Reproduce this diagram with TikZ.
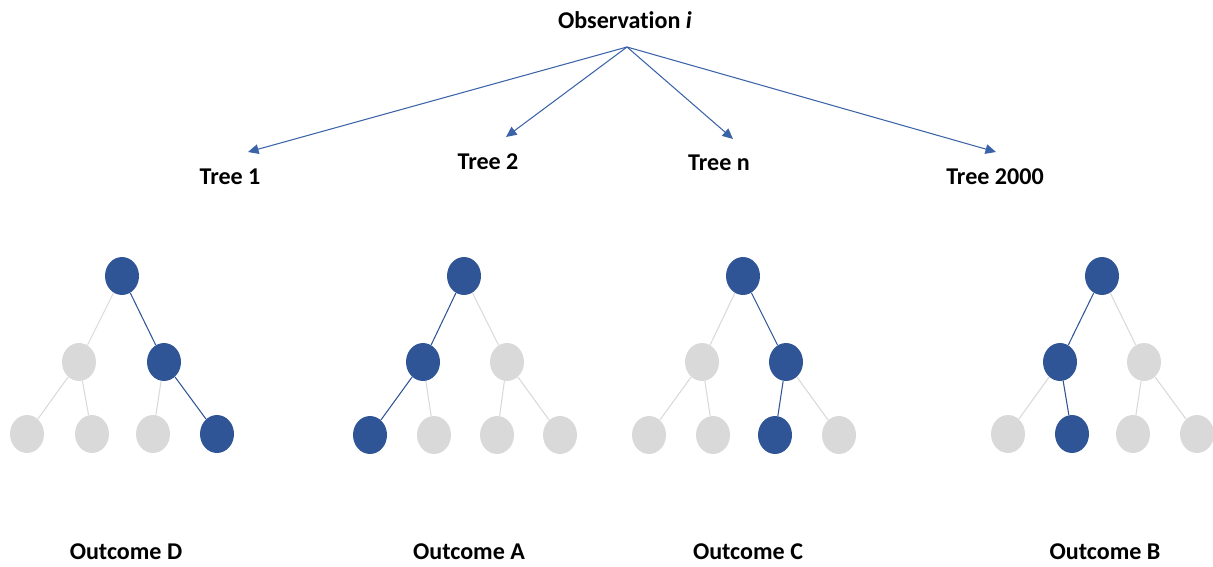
\documentclass[tikz,border=0pt]{standalone}
\usepackage{fontspec}
\setmainfont[Ligatures=NoCommon]{Carlito}
\usetikzlibrary{shapes.geometric, arrows.meta}
\definecolor{nodeblue}{HTML}{2F5597}
\definecolor{nodegray}{HTML}{D9D9D9}
\definecolor{arrowblue}{HTML}{3B63A8}
\tikzstyle{title} = [font=\fontsize{13.7}{16}\selectfont\bfseries, inner sep=0pt]
\tikzstyle{hit} = [ellipse, minimum width=0.68cm, minimum height=0.76cm, inner sep=0pt, fill=nodeblue]
\tikzstyle{miss} = [ellipse, minimum width=0.68cm, minimum height=0.76cm, inner sep=0pt, fill=nodegray]
\tikzstyle{hitedge} = [draw=nodeblue, line width=0.6pt]
\tikzstyle{missedge} = [draw=nodegray, line width=0.6pt]
\tikzstyle{arrow} = [draw=arrowblue, line width=0.6pt, -{Triangle[length=6pt,width=5.5pt]}]

\begin{document}
\begin{tikzpicture}[x=0.02cm, y=-0.02cm]
\useasboundingbox (0,0) rectangle (1213,567);

\node (obs) [title] at (625,20) {Observation \textit{i}};
\coordinate (obspt) at (627,47);

\node (tree1) [title] at (230,177) {Tree 1};
\node (tree2) [title] at (488,162) {Tree 2};
\node (treen) [title] at (719,163) {Tree n};
\node (tree2000) [title] at (995,177) {Tree 2000};

\coordinate (tip1) at (248,152);
\coordinate (tip2) at (506,137);
\coordinate (tipn) at (733,139);
\coordinate (tip2000) at (996,152);

\draw [arrow] (obspt) -- (tip1);
\draw [arrow] (obspt) -- (tip2);
\draw [arrow] (obspt) -- (tipn);
\draw [arrow] (obspt) -- (tip2000);

% tree 1
\node (aroot) [hit] at (122,276) {};
\node (al) [miss] at (79,362) {};
\node (ar) [hit] at (164,362) {};
\node (all) [miss] at (27,434) {};
\node (alr) [miss] at (92,434) {};
\node (arl) [miss] at (153,434) {};
\node (arr) [hit] at (217,434) {};

\draw [missedge] (aroot) -- (al);
\draw [hitedge] (aroot) -- (ar);
\draw [missedge] (al) -- (all);
\draw [missedge] (al) -- (alr);
\draw [missedge] (ar) -- (arl);
\draw [hitedge] (ar) -- (arr);

% tree 2
\node (broot) [hit] at (464,276) {};
\node (bl) [hit] at (423,362) {};
\node (br) [miss] at (507,362) {};
\node (bll) [hit] at (370,435) {};
\node (blr) [miss] at (434,435) {};
\node (brl) [miss] at (497,435) {};
\node (brr) [miss] at (560,435) {};

\draw [hitedge] (broot) -- (bl);
\draw [missedge] (broot) -- (br);
\draw [hitedge] (bl) -- (bll);
\draw [missedge] (bl) -- (blr);
\draw [missedge] (br) -- (brl);
\draw [missedge] (br) -- (brr);

% tree n
\node (croot) [hit] at (743,276) {};
\node (cl) [miss] at (702,362) {};
\node (cr) [hit] at (786,362) {};
\node (cll) [miss] at (649,435) {};
\node (clr) [miss] at (713,435) {};
\node (crl) [hit] at (775,435) {};
\node (crr) [miss] at (839,435) {};

\draw [missedge] (croot) -- (cl);
\draw [hitedge] (croot) -- (cr);
\draw [missedge] (cl) -- (cll);
\draw [missedge] (cl) -- (clr);
\draw [hitedge] (cr) -- (crl);
\draw [missedge] (cr) -- (crr);

% tree 2000
\node (droot) [hit] at (1102,276) {};
\node (dl) [hit] at (1060,362) {};
\node (dr) [miss] at (1144,362) {};
\node (dll) [miss] at (1008,434) {};
\node (dlr) [hit] at (1072,434) {};
\node (drl) [miss] at (1133,434) {};
\node (drr) [miss] at (1197,434) {};

\draw [hitedge] (droot) -- (dl);
\draw [missedge] (droot) -- (dr);
\draw [missedge] (dl) -- (dll);
\draw [hitedge] (dl) -- (dlr);
\draw [missedge] (dr) -- (drl);
\draw [missedge] (dr) -- (drr);

% outcomes
\node (outd) [title] at (126,552) {Outcome D};
\node (outa) [title] at (469,552) {Outcome A};
\node (outc) [title] at (748,552) {Outcome C};
\node (outb) [title] at (1105,552) {Outcome B};

\end{tikzpicture}
\end{document}
